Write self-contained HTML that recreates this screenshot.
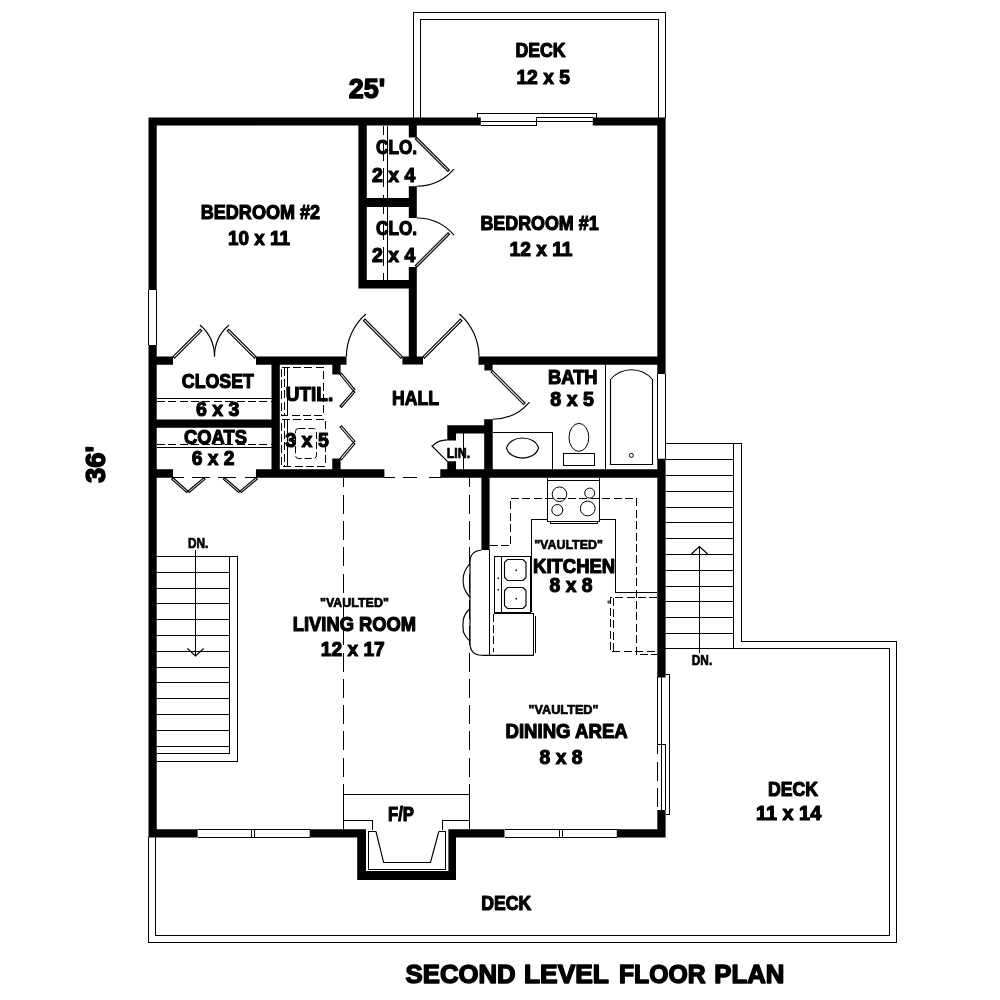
<!DOCTYPE html>
<html><head><meta charset="utf-8"><title>Second Level Floor Plan</title>
<style>
html,body{margin:0;padding:0;background:#fff}
svg{display:block}
.w path{fill:#000}
.t path{fill:none;stroke:#000;stroke-width:1;shape-rendering:crispEdges}
.t path.a{shape-rendering:auto;stroke-width:1.15}
.t path.f{fill:#fff}
.t path.d{stroke-dasharray:8 3.4}
.t path.d2{stroke-dasharray:10 4}
.t path.dv{stroke-dasharray:19 7.3;stroke-dashoffset:9.3}
text{font-family:"Liberation Sans",Arial,Helvetica,sans-serif;font-weight:bold;fill:#000;stroke:#000;stroke-width:1.2;stroke-linejoin:round}
text.sm{stroke-width:.7}
text.lg{stroke-width:1.5}
svg{will-change:transform;opacity:.999}
</style></head><body>
<svg width="1000" height="1000" viewBox="0 0 1000 1000">
<rect width="1000" height="1000" fill="#fff"/>

<g class="t">
<path d="M413.5 118L413.5 12.5L665.5 12.5L665.5 118"/>
<path d="M420.5 118L420.5 19.5L658.5 19.5L658.5 118"/>
<path d="M148.5 837L148.5 942.5L896.5 942.5L896.5 641.5L741.5 641.5L741.5 443.5L665 443.5"/>
<path d="M155.5 837L155.5 935.5L889.5 935.5L889.5 648.5L665 648.5"/>
</g>
<g class="w">
<path d="M148.5 117.4H156.7V290H148.5ZM148.5 345H156.7V837.6H148.5ZM148.5 117.4H480.8V125.6H148.5ZM592.8 117.4H665.6V125.6H592.8ZM657.3 117.4H665.6V374H657.3ZM657.3 458.7H665.6V677.4H657.3ZM657.3 810H665.6V837.6H657.3ZM148.5 829.3H197.6V837.6H148.5ZM309.7 829.3H366V837.6H309.7ZM448.4 829.3H504.5V837.6H448.4ZM616.8 829.3H665.6V837.6H616.8ZM357.2 829.3H366V880H357.2ZM448.4 829.3H456V880H448.4ZM357.2 871H456V880H357.2ZM358.4 125.6H366.8V288.5H358.4ZM366.8 198H409V207H366.8ZM358.4 280H409V288.5H358.4ZM408.8 125.6H416.8V137.5H408.8ZM408.8 186.2H416.8V218H408.8ZM408.8 267H416.8V364.6H408.8ZM402.4 356.6H423V364.6H402.4ZM156.7 356.6H173V364.8H156.7ZM256 356.6H346.5V364.8H256ZM478.5 356.6H657.3V364.8H478.5ZM484.4 364.8H492.6V370.6H484.4ZM271.5 364.8H279.8V469.2H271.5ZM332.3 364.8H340.6V374.5H332.3ZM332.3 458.5H340.6V469.2H332.3ZM156.7 419.5H271.5V427.7H156.7ZM156.7 469.2H173V477.7H156.7ZM256 469.2H384.4V477.7H256ZM440.3 469.2H657.3V477.7H440.3ZM447.3 425.3H484.4V433.5H447.3ZM447.3 433.5H456V440.4H447.3ZM447.3 461.3H456V469.2H447.3ZM484.2 419.2H492.7V469.2H484.2ZM481.4 477.7H489.6V550H481.4Z"/>
</g>
<g class="t">
<path d="M148.5 290L148.5 345"/>
<path d="M156.5 290L156.5 345"/>
<path d="M657.5 374L657.5 458.7"/>
<path d="M665.5 374L665.5 458.7"/>
<path d="M197.6 829.5L309.7 829.5"/>
<path d="M197.6 837.5L309.7 837.5"/>
<path d="M251.5 829.5L251.5 837.5"/>
<path d="M254.5 829.5L254.5 837.5"/>
<path d="M504.5 829.5L616.8 829.5"/>
<path d="M504.5 837.5L616.8 837.5"/>
<path d="M559.5 829.5L559.5 837.5"/>
<path d="M562.5 829.5L562.5 837.5"/>
<path d="M477.5 117.5L477.5 113.5L596.5 113.5L596.5 117.5"/>
<path d="M480.8 121.5L536.5 121.5"/>
<path d="M480.8 125.5L536.5 125.5L536.5 117.5L592.8 117.5"/>
<path d="M536.5 121.5L592.8 121.5"/>
<path d="M665.5 674.5L669.5 674.5L669.5 814.5L665.5 814.5"/>
<path d="M657.5 677.4L657.5 744.5L665.5 744.5"/>
<path d="M661.5 677.4L661.5 810"/>
<path d="M665.5 744.5L665.5 810"/>
<path class="dv" d="M657.5 744.5L657.5 810"/>
<path class="dv" style="stroke-dashoffset:10" d="M383.5 125.6L383.5 280"/>
<path d="M387.5 125.6L387.5 280"/>
<path d="M156.7 398.5L271.5 398.5"/>
<path class="d" d="M156.7 401.5L271.5 401.5"/>
<path class="d" d="M156.7 444.5L271.5 444.5"/>
<path d="M156.7 447.5L271.5 447.5"/>
<path d="M173 477.5L183.7 477.5"/>
<path d="M192 477.5L209.5 477.5"/>
<path d="M218.3 477.5L236 477.5"/>
<path d="M244.7 477.5L256 477.5"/>
<path d="M384.4 477.5L395 477.5"/>
<path d="M403 477.5L416.5 477.5"/>
<path d="M428.5 477.5L440.6 477.5"/>
<path class="dv" d="M343.5 477.7L343.5 794.3"/>
<path d="M343.5 794.3L343.5 829.3"/>
<path class="dv" d="M469.5 477.7L469.5 794.3"/>
<path d="M469.5 794.3L469.5 829.3"/>
<path d="M343.5 794.5L469.5 794.5"/>
<path d="M343.5 820.5L372.5 820.5L372.5 830"/>
<path d="M469.5 820.5L442.5 820.5L442.5 830"/>
<path d="M376 831.5L368.5 831.5L368.5 869.5L445.5 869.5L445.5 831.5L438.8 831.5"/>
<path class="a" d="M376 831.5L383.6 862.5L430.5 862.5L438.8 831.5"/>
<path d="M156.7 556.5L237.5 556.5"/>
<path d="M156.7 572.5L229.5 572.5"/>
<path d="M156.7 588.5L229.5 588.5"/>
<path d="M156.7 603.5L229.5 603.5"/>
<path d="M156.7 619.5L229.5 619.5"/>
<path d="M156.7 635.5L229.5 635.5"/>
<path d="M156.7 651.5L229.5 651.5"/>
<path d="M156.7 667.5L229.5 667.5"/>
<path d="M156.7 682.5L229.5 682.5"/>
<path d="M156.7 698.5L229.5 698.5"/>
<path d="M156.7 714.5L229.5 714.5"/>
<path d="M156.7 730.5L229.5 730.5"/>
<path d="M156.7 746.5L229.5 746.5"/>
<path d="M229.5 556.5L229.5 753.5"/>
<path d="M237.5 556.5L237.5 761.5"/>
<path d="M156.7 753.5L229.5 753.5"/>
<path d="M156.7 761.5L237.5 761.5"/>
<path d="M195.5 550L195.5 655.5"/>
<path class="a" d="M187.3 648.5L195.5 656L203.7 648.5"/>
<path d="M665.6 459.5L733.5 459.5"/>
<path d="M665.6 475.5L733.5 475.5"/>
<path d="M665.6 491.5L733.5 491.5"/>
<path d="M665.6 507.5L733.5 507.5"/>
<path d="M665.6 522.5L733.5 522.5"/>
<path d="M665.6 538.5L733.5 538.5"/>
<path d="M665.6 554.5L733.5 554.5"/>
<path d="M665.6 570.5L733.5 570.5"/>
<path d="M665.6 586.5L733.5 586.5"/>
<path d="M665.6 601.5L733.5 601.5"/>
<path d="M665.6 617.5L733.5 617.5"/>
<path d="M665.6 633.5L733.5 633.5"/>
<path d="M733.5 443.5L733.5 648.5"/>
<path d="M699.5 546.5L699.5 652.5"/>
<path class="a" d="M691.3 554L699.5 546.5L707.7 554"/>
<path d="M605.5 364.8L605.5 469.2"/>
<path class="a" d="M610.5 464.5V379.5A27.4 27.4 0 0 1 652.5 379.5V464.5Z"/>
<circle cx="631.3" cy="455.4" r="2" fill="none" stroke="#000"/>
<path d="M492.6 432.5L552.5 432.5L552.5 469.2"/>
<path class="a" d="M506.5 448C510 434.6 535 434.6 538.5 448C535 461.4 510 461.4 506.5 448Z"/>
<ellipse cx="578.9" cy="437.4" rx="9.9" ry="14" fill="none" stroke="#000"/>
<path d="M563.5 453.5L594.5 453.5L594.5 465.5L563.5 465.5Z"/>
<path d="M463.5 433.2L463.5 469.2"/>
<path class="d" d="M281.5 367.5L323.5 367.5L323.5 415.5L281.5 415.5Z"/>
<path class="d" d="M284.5 367.5L284.5 415.5"/>
<path d="M287.5 367.5L287.5 415.5"/>
<path class="d" d="M281.5 419.5L325.5 419.5L325.5 466.5L281.5 466.5Z"/>
<path class="d" d="M284.5 419.5L284.5 466.5"/>
<path d="M287.5 419.5L287.5 466.5"/>
<rect x="295.5" y="428.5" width="21" height="30" rx="3" fill="none" stroke="#000" stroke-dasharray="7 3"/>
<path d="M547.5 477.7L547.5 521.5L599.5 521.5L599.5 477.7"/>
<path d="M547.5 480.5L599.5 480.5"/>
<path d="M550.5 521.5L550.5 523.5L597.5 523.5L597.5 521.5"/>
<circle cx="559.5" cy="494.2" r="7.3" fill="none" stroke="#000"/>
<circle cx="589.7" cy="493.1" r="5" fill="none" stroke="#000"/>
<circle cx="557.3" cy="510" r="5.5" fill="none" stroke="#000"/>
<circle cx="587.7" cy="508.5" r="7.4" fill="none" stroke="#000"/>
<path d="M547.5 519.5L531.5 519.5L531.5 612"/>
<path d="M599.5 519.5L615.5 519.5L615.5 592.5L657.3 592.5"/>
<path class="d" d="M489.6 545.5L510.5 545.5L510.5 498.5L636.5 498.5L636.5 654.5L657.3 654.5"/>
<path class="d" d="M657.3 597.5L610.5 597.5L610.5 651.5L657.3 651.5"/>
<path class="d" d="M613.5 597.5L613.5 651.5"/>
<rect x="608" y="601" width="2" height="2" fill="none" stroke="#000" stroke-width="0.8"/>
<path class="a" d="M481.4 550.3Q470 551 470 562V643Q470 655 482 655.3H533.8"/>
<path d="M489.5 550L489.5 655.3"/>
<path d="M493.5 613.5L533.5 613.5L533.5 655.3"/>
<path d="M535.5 616L535.5 653"/>
<path class="d" d="M493.5 613.5L493.5 651.5"/>
<path class="a" d="M470 563.7Q465 569 463.4 576Q462.6 582 464 587.5Q466 593 470 597.5"/>
<path class="a" d="M470 608.7Q465 613 463.4 619Q462.4 625.5 463.4 632Q465.5 637.5 470 641.2"/>
<path d="M494.5 556.5L530 556.5L530 612.5L494.5 612.5Z"/>
<path d="M501.5 556.5L501.5 612.5"/>
<path class="a" d="M507.5 559.5L523 559.5L526 562.5L526 577.5L523 580.5L507.5 580.5L504.5 577.5L504.5 562.5Z"/>
<path class="a" d="M507.5 587.5L523 587.5L526 590.5L526 605.5L523 608.5L507.5 608.5L504.5 605.5L504.5 590.5Z"/>
<rect x="515.5" y="569.5" width="1.5" height="1.5" fill="#000" stroke="none"/>
<rect x="515.5" y="598" width="1.5" height="1.5" fill="#000" stroke="none"/>
<rect x="497.5" y="577.5" width="1.5" height="1.5" fill="#000" stroke="none"/>
<rect x="497.5" y="589" width="1.5" height="1.5" fill="#000" stroke="none"/>
<path class="a" d="M416.8 137.5L449.34 170.04L447.86 171.53L415.32 138.98Z"/>
<path class="a" d="M453.83 169.13A48.7 48.7 0 0 1 416.80 186.20"/>
<path class="a" d="M416.8 267L449.54 234.26L448.06 232.77L415.32 265.52Z"/>
<path class="a" d="M454.06 235.18A49 49 0 0 0 416.80 218.00"/>
<path class="a" d="M402.4 356.6L364.98 319.18L363.49 320.66L400.92 358.08Z"/>
<path class="a" d="M366.03 314.02A56 56 0 0 0 346.40 356.60"/>
<path class="a" d="M423 356.6L460.42 319.18L461.91 320.66L424.48 358.08Z"/>
<path class="a" d="M459.37 314.02A56 56 0 0 1 479.00 356.60"/>
<path class="a" d="M492.6 370.6L525.08 403.08L523.59 404.56L491.12 372.08Z"/>
<path class="a" d="M529.56 402.16A48.6 48.6 0 0 1 492.60 419.20"/>
<path class="a" d="M173 356.6L200.29 329.31L201.78 330.79L174.48 358.08Z"/>
<path class="a" d="M199.95 325.04A41.5 41.5 0 0 1 214.50 356.60"/>
<path class="a" d="M256 356.6L228.71 329.31L227.22 330.79L254.52 358.08Z"/>
<path class="a" d="M229.05 325.04A41.5 41.5 0 0 0 214.50 356.60"/>
<path class="a" d="M447.3 461.3L432.17 446.17L432.17 446.16L447.31 461.29Z"/>
<path class="a" d="M432.17 446.17A21.4 21.4 0 0 1 447.30 439.90"/>
<path class="a" d="M340 374.5L353.3 390.8L354.85 389.54L341.55 373.24Z"/>
<path class="a" d="M353.3 390.8L340 406L341.51 407.32L354.81 392.12Z"/>
<path class="a" d="M340 427L353.3 442.5L354.82 441.2L341.52 425.7Z"/>
<path class="a" d="M353.3 442.5L340 458.5L341.54 459.78L354.84 443.78Z"/>
<path class="a" d="M173 477.7L188 491L186.67 492.5L171.67 479.2Z"/>
<path class="a" d="M188 491L203.8 477.7L205.09 479.23L189.29 492.53Z"/>
<path class="a" d="M256 477.7L240 491L241.28 492.54L257.28 479.24Z"/>
<path class="a" d="M240 491L224.7 477.7L223.39 479.21L238.69 492.51Z"/>
</g>
<g>
<text x="515.5" y="57.2" font-size="21" textLength="50.1" lengthAdjust="spacingAndGlyphs">DECK</text>
<text x="516.4" y="83.6" font-size="21" textLength="53.6" lengthAdjust="spacingAndGlyphs">12 x 5</text>
<text x="480.4" y="230.0" font-size="21" textLength="118.2" lengthAdjust="spacingAndGlyphs">BEDROOM #1</text>
<text x="509.5" y="255.6" font-size="21" textLength="63.0" lengthAdjust="spacingAndGlyphs">12 x 11</text>
<text x="200.8" y="218.6" font-size="21" textLength="119.2" lengthAdjust="spacingAndGlyphs">BEDROOM #2</text>
<text x="228" y="244.6" font-size="21" textLength="62" lengthAdjust="spacingAndGlyphs">10 x 11</text>
<text x="376" y="153.6" font-size="21" textLength="41" lengthAdjust="spacingAndGlyphs">CLO.</text>
<text x="372" y="181.6" font-size="21" textLength="43.3" lengthAdjust="spacingAndGlyphs">2 x 4</text>
<text x="376" y="234.8" font-size="21" textLength="41" lengthAdjust="spacingAndGlyphs">CLO.</text>
<text x="372" y="262.4" font-size="21" textLength="43.3" lengthAdjust="spacingAndGlyphs">2 x 4</text>
<text x="181.8" y="388.3" font-size="21" textLength="72.2" lengthAdjust="spacingAndGlyphs">CLOSET</text>
<text x="196" y="416.2" font-size="21" textLength="43.5" lengthAdjust="spacingAndGlyphs">6 x 3</text>
<text x="184" y="443.6" font-size="21" textLength="63" lengthAdjust="spacingAndGlyphs">COATS</text>
<text x="191.7" y="465.1" font-size="21" textLength="42.9" lengthAdjust="spacingAndGlyphs">6 x 2</text>
<text x="285.7" y="401.2" font-size="21" textLength="47.5" lengthAdjust="spacingAndGlyphs">UTIL.</text>
<text x="285.2" y="447.0" font-size="21" textLength="43.6" lengthAdjust="spacingAndGlyphs">3 x 5</text>
<text x="392" y="405.2" font-size="21" textLength="47" lengthAdjust="spacingAndGlyphs">HALL</text>
<text x="548" y="383.9" font-size="21" textLength="49.6" lengthAdjust="spacingAndGlyphs">BATH</text>
<text x="550.3" y="405.6" font-size="21" textLength="43.6" lengthAdjust="spacingAndGlyphs">8 x 5</text>
<text x="446.8" y="457.7" font-size="14.6" textLength="23.4" lengthAdjust="spacingAndGlyphs" class="sm">LIN.</text>
<text x="534.2" y="548.8" font-size="13" textLength="68.7" lengthAdjust="spacingAndGlyphs" class="sm">&quot;VAULTED&quot;</text>
<text x="533.1" y="572.6" font-size="21" textLength="82.1" lengthAdjust="spacingAndGlyphs">KITCHEN</text>
<text x="549.6" y="592.4" font-size="21" textLength="42.9" lengthAdjust="spacingAndGlyphs">8 x 8</text>
<text x="320" y="607.2" font-size="13" textLength="68.8" lengthAdjust="spacingAndGlyphs" class="sm">&quot;VAULTED&quot;</text>
<text x="292.8" y="630.8" font-size="21" textLength="123.2" lengthAdjust="spacingAndGlyphs">LIVING ROOM</text>
<text x="320.8" y="655.6" font-size="21" textLength="64.0" lengthAdjust="spacingAndGlyphs">12 x 17</text>
<text x="528.4" y="713.6" font-size="13" textLength="70.2" lengthAdjust="spacingAndGlyphs" class="sm">&quot;VAULTED&quot;</text>
<text x="505.5" y="738.4" font-size="21" textLength="122.2" lengthAdjust="spacingAndGlyphs">DINING AREA</text>
<text x="539.6" y="763.6" font-size="21" textLength="42.9" lengthAdjust="spacingAndGlyphs">8 x 8</text>
<text x="188" y="547.7" font-size="15" textLength="20.4" lengthAdjust="spacingAndGlyphs" class="sm">DN.</text>
<text x="691.8" y="664.5" font-size="14.8" textLength="20.4" lengthAdjust="spacingAndGlyphs" class="sm">DN.</text>
<text x="388" y="820.6" font-size="21" textLength="26" lengthAdjust="spacingAndGlyphs">F/P</text>
<text x="481.2" y="909.6" font-size="21" textLength="50.0" lengthAdjust="spacingAndGlyphs">DECK</text>
<text x="768" y="795.6" font-size="21" textLength="50" lengthAdjust="spacingAndGlyphs">DECK</text>
<text x="756" y="819.6" font-size="21" textLength="65.2" lengthAdjust="spacingAndGlyphs">11 x 14</text>
<text x="348.8" y="98" font-size="28.5" textLength="36.4" lengthAdjust="spacingAndGlyphs" class="lg">25'</text>
<text class="lg" transform="translate(105.3 483) rotate(-90)" x="0" y="0" font-size="28.5" textLength="37" lengthAdjust="spacingAndGlyphs">36'</text>
<text class="lg" y="983" font-size="26"><tspan x="405.6" textLength="110" lengthAdjust="spacingAndGlyphs">SECOND</tspan> <tspan x="524" textLength="84.5" lengthAdjust="spacingAndGlyphs">LEVEL</tspan> <tspan x="619" textLength="86.5" lengthAdjust="spacingAndGlyphs">FLOOR</tspan> <tspan x="714.3" textLength="70" lengthAdjust="spacingAndGlyphs">PLAN</tspan></text>
</g>
</svg></body></html>
